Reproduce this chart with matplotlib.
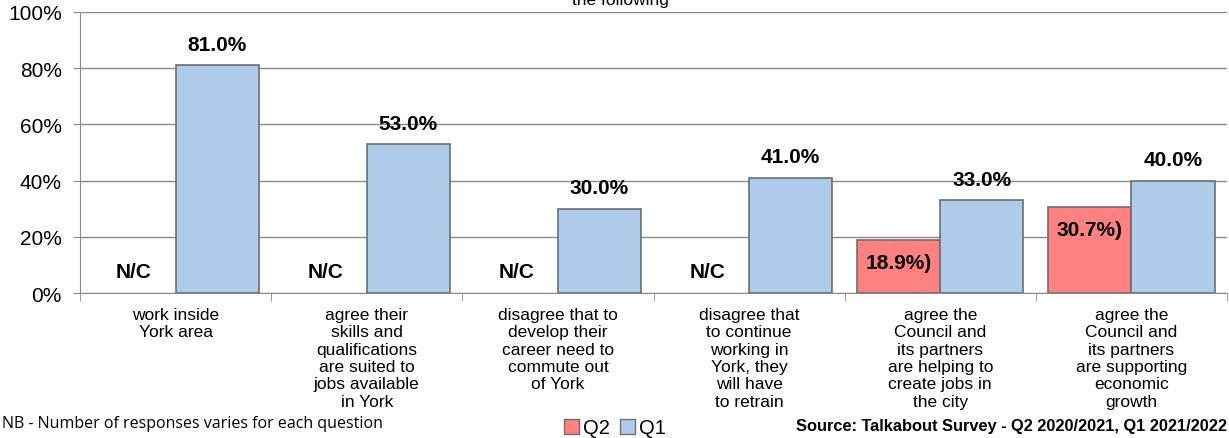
import matplotlib.pyplot as plt
import matplotlib.patches as mpatches
import numpy as np

categories = [
    "work inside\nYork area",
    "agree their\nskills and\nqualifications\nare suited to\njobs available\nin York",
    "disagree that to\ndevelop their\ncareer need to\ncommute out\nof York",
    "disagree that\nto continue\nworking in\nYork, they\nwill have\nto retrain",
    "agree the\nCouncil and\nits partners\nare helping to\ncreate jobs in\nthe city",
    "agree the\nCouncil and\nits partners\nare supporting\neconomic\ngrowth",
]
q2 = [None, None, None, None, 18.9, 30.7]   # None = not collected
q1 = [81.0, 53.0, 30.0, 41.0, 33.0, 40.0]

red = "#FF8080"
blue = "#AECCEA"
edge = "#6E6E6E"
grid = "#8A8A8A"

plt.rcParams['font.family'] = ['Liberation Sans', 'DejaVu Sans']

fig = plt.figure(figsize=(12.29, 4.39), dpi=100)
ax = fig.add_axes([80 / 1229, 145 / 439, 1147 / 1229, 281 / 439])

x = np.arange(len(categories))
w = 0.435
q2_vals = [v if v is not None else np.nan for v in q2]

b2 = ax.bar(x - w / 2, q2_vals, w, color=red, edgecolor=edge, linewidth=1.2, zorder=3)
b1 = ax.bar(x + w / 2, q1, w, color=blue, edgecolor=edge, linewidth=1.2, zorder=3)

for xi, v in zip(x, q1):
    ax.annotate(f"{v:.1f}%", (xi + w / 2, v), xytext=(0, 15), textcoords="offset points",
                ha="center", va="center", fontsize=15, fontweight="bold")
for xi, v in zip(x, q2):
    if v is None:
        ax.text(xi - w / 2, 7.5, "N/C", ha="center", va="center", fontsize=15, fontweight="bold")
    else:
        ax.annotate(f"{v:.1f}%)", (xi - w / 2, v), xytext=(0, -16.5), textcoords="offset points",
                    ha="center", va="center", fontsize=15, fontweight="bold")

ax.set_xlim(-0.5, len(categories) - 0.5)
ax.set_ylim(0, 100)
ax.set_yticks(np.arange(0, 101, 20))
ax.set_yticklabels([f"{t}%" for t in range(0, 101, 20)], fontsize=15)
ax.yaxis.grid(True, color=grid, linewidth=1)
ax.set_axisbelow(True)

ax.set_xticks(x)
ax.set_xticklabels(categories, fontsize=12.5, linespacing=1.2, va="top")
ax.set_xticks(np.arange(-0.5, len(categories)), minor=True)
ax.tick_params(axis="x", which="major", length=0, pad=10)
ax.tick_params(axis="x", which="minor", length=6, color=grid)
ax.tick_params(axis="y", length=5, color=grid, pad=8)

for s in ["top", "right"]:
    ax.spines[s].set_visible(False)
ax.spines["left"].set_color(grid)
ax.spines["bottom"].set_color(grid)

# last line of the chart title, running off the top edge
fig.text(620 / 1229, 1 - 1 / 439, "the following", ha="center", va="center", fontsize=12.5)

fig.text(2 / 1229, 15 / 439, "NB - Number of responses varies for each question",
         ha="left", va="center", fontsize=11.5, family=["Open Sans", "DejaVu Sans"])
fig.text(1227 / 1229, 12 / 439, "Source: Talkabout Survey - Q2 2020/2021, Q1 2021/2022",
         ha="right", va="center", fontsize=11.8, fontweight="bold")

handles = [mpatches.Patch(facecolor=red, edgecolor=edge, label="Q2"),
           mpatches.Patch(facecolor=blue, edgecolor=edge, label="Q1")]
fig.legend(handles=handles, loc="center", bbox_to_anchor=(615 / 1229, 10 / 439), ncol=2,
           frameon=False, fontsize=14.5, handlelength=0.75, handleheight=0.75,
           handletextpad=0.2, columnspacing=0.5, borderpad=0)

fig.savefig("out.png", dpi=100)
